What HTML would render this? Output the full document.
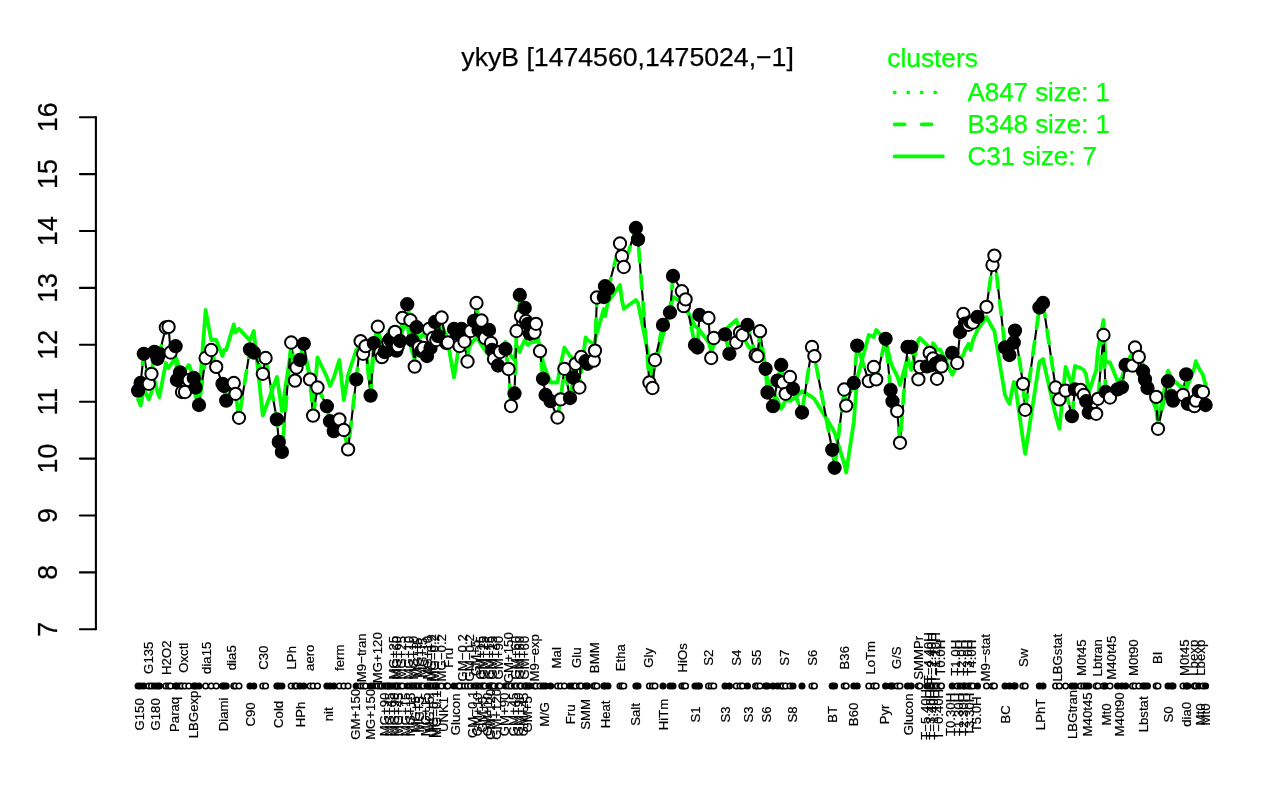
<!DOCTYPE html>
<html lang="en"><head><meta charset="utf-8"><title>ykyB [1474560,1475024,-1]</title>
<style>html,body{margin:0;padding:0;background:#fff}svg{display:block}text{font-family:"Liberation Sans",Arial,Helvetica,sans-serif;fill:#000;stroke:#000;stroke-width:.25px}.g{fill:#0f0;stroke:#0f0}.xl{font-size:13.2px;stroke-width:.2px}.yl{font-size:26.8px}</style></head><body>
<svg width="1280" height="800" viewBox="0 0 1280 800">
<rect width="1280" height="800" fill="#fff"/>
<text x="627.6" y="66" font-size="26.2" text-anchor="middle" textLength="332.5" lengthAdjust="spacingAndGlyphs">ykyB [1474560,1475024,−1]</text>
<text class="g" x="887.3" y="66.6" font-size="26.3">clusters</text>
<line x1="894.7" y1="92.4" x2="942.9" y2="92.4" stroke="#0f0" stroke-width="3.8" stroke-linecap="round" stroke-dasharray="0 13.5"/>
<text class="g" x="967.5" y="100.8" font-size="25.9">A847 size: 1</text>
<line x1="894.7" y1="124.4" x2="942.9" y2="124.4" stroke="#0f0" stroke-width="3.8" stroke-linecap="round" stroke-dasharray="9.8 17.2"/>
<text class="g" x="967.5" y="132.8" font-size="25.9">B348 size: 1</text>
<line x1="894.7" y1="156.4" x2="942.9" y2="156.4" stroke="#0f0" stroke-width="3.8" stroke-linecap="round"/>
<text class="g" x="967.5" y="164.8" font-size="25.9">C31 size: 7</text>
<g stroke="#000" stroke-width="2.1" fill="none" stroke-linecap="round">
<line x1="95.9" y1="117.2" x2="95.9" y2="629.3"/>
<line x1="79.9" y1="117.2" x2="95.9" y2="117.2"/>
<line x1="79.9" y1="174.1" x2="95.9" y2="174.1"/>
<line x1="79.9" y1="231" x2="95.9" y2="231"/>
<line x1="79.9" y1="287.9" x2="95.9" y2="287.9"/>
<line x1="79.9" y1="344.8" x2="95.9" y2="344.8"/>
<line x1="79.9" y1="401.7" x2="95.9" y2="401.7"/>
<line x1="79.9" y1="458.6" x2="95.9" y2="458.6"/>
<line x1="79.9" y1="515.5" x2="95.9" y2="515.5"/>
<line x1="79.9" y1="572.4" x2="95.9" y2="572.4"/>
<line x1="79.9" y1="629.3" x2="95.9" y2="629.3"/>
</g>
<text class="yl" text-anchor="middle" transform="translate(57.0,117.2) rotate(-90)">16</text>
<text class="yl" text-anchor="middle" transform="translate(57.0,174.1) rotate(-90)">15</text>
<text class="yl" text-anchor="middle" transform="translate(57.0,231) rotate(-90)">14</text>
<text class="yl" text-anchor="middle" transform="translate(57.0,287.9) rotate(-90)">13</text>
<text class="yl" text-anchor="middle" transform="translate(57.0,344.8) rotate(-90)">12</text>
<text class="yl" text-anchor="middle" transform="translate(57.0,401.7) rotate(-90)">11</text>
<text class="yl" text-anchor="middle" transform="translate(57.0,458.6) rotate(-90)">10</text>
<text class="yl" text-anchor="middle" transform="translate(57.0,515.5) rotate(-90)">9</text>
<text class="yl" text-anchor="middle" transform="translate(57.0,572.4) rotate(-90)">8</text>
<text class="yl" text-anchor="middle" transform="translate(57.0,629.3) rotate(-90)">7</text>
<polyline fill="none" stroke="#0f0" stroke-width="3.8" stroke-linejoin="round" stroke-linecap="round" points="138.1,399.4 140.6,405.6 143.8,388.8 148.8,399.4 151.5,392 154.4,380 157.5,392 159.4,397 165.8,363 168.6,368 170.6,365 175.6,357.5 176.9,360 180,370 182,375 185,370 188.8,365 193.8,377 195.6,397 199,398 205.6,310 211.2,340 216.2,340 222.5,356 224,350 226.2,350 233.8,324.4 235.6,332.5 239,328.8 250,340.6 253.8,331 262.8,415.6 265.6,408 276.9,377 278.8,389 281.9,411 291.2,348.8 295,362 296.5,365 300,368 303.8,354 310,375 313.1,407.5 317.5,357.5 326.9,377 330,386 333.8,377.5 339.4,360 343.8,400 348.1,375 356.2,350 360.6,345 363.1,345 365.6,348 370.6,387.5 373.8,345 377.8,332 380.4,338 381.9,342 384.5,345 387,340 388.3,332 390,330 392.3,338 395,350 396.4,355 397.8,352 400,345 402.5,330 407.2,322 410.4,345 412.3,352 414.7,358 416.5,345 419,340 421.3,336 423.5,334 427,338 429,340 430.5,338 433,335 435,332 436.3,330 438,328 441.6,326 446.3,335 447.9,343 454,377.5 458,352 461.5,348 459.5,350 464.5,350 467.5,350 470.5,345 474,340 476.5,338 478.5,340 481.5,345 483.5,348 485,350 489,355 491,358 492,360 494,362 498,365 500,355 505.5,342 508.5,350 511,356 514.5,360 516.5,345 519.8,352 521,348 524.8,340 526,343 527.9,345 529.8,343 534.5,342 536,339 540,345 543,362 545.6,370 550.6,382.5 557.5,382.5 560.6,365 564.4,347.5 570,356 573,358 575.6,362 579.4,368 581.2,372 585.6,337.5 587.5,340 593.8,344 595,340 596.9,333 603.8,309 605,316 608,302 620,285 621.9,300 623.8,308.8 635.9,300 638,303 649.4,360 652.5,376 655,365 663,335 670,310 673,297 681.9,302 683.8,305 685.6,308 695,326 697.5,328 699.4,330 708.5,342 711.2,350 713.8,345 725,330 729.4,326 736.2,320 740,330 742.5,335 747.5,345 755.6,355 757.5,352 760,342 765.6,372 767.5,380 773,392 777.5,400 781.2,408.8 783,406 785.6,400 790,401 793,399 802,391.2 812,397 814.4,399 832.2,428 834.6,432.5 844.2,463.6 846.2,472.5 853.8,422 857.2,378 868.8,335 873.8,337 876.2,330 885.6,340 890.6,362 892.5,367 897.2,376 900,385 907.5,358 911.2,370 918.4,340 920,338 926.9,345 929.7,350 931.5,348 933,343.3 935.3,346 937,350 939.8,349.5 941.5,352 952.2,374.8 957.2,365 960,358 963.4,355 965,350 968.5,344 970.5,350 973,340 977.5,330 986.5,317 992.5,328 994.4,331 1005,395 1009.4,403.8 1013.8,382 1015,383 1023,440 1025.2,453.8 1039.4,362 1043,359 1055.6,415 1059.4,428.8 1065.6,367 1071.9,385 1075,366 1080.6,368 1083.8,370 1086.2,375 1088.8,392.5 1096.2,370 1098,350 1103.5,320 1105.6,362 1110,362.5 1117.5,381 1121.9,378 1125.6,365 1132.5,352.5 1135,350 1138.8,355 1143,365 1145,372 1147.5,385 1156.2,410 1158,422.5 1168,370.6 1171.5,378 1173,380 1183,388.8 1186.2,381 1187.8,385 1194.4,368 1195.8,361.2 1198.8,368 1203,375 1205.6,385"/>
<polyline fill="none" stroke="#000" stroke-width="2.1" stroke-linejoin="round" points="138.1,390.6 140.6,383 143.8,353.8 148.8,383.8 151.5,373.8 154.4,351.9 157.5,358.8 159.4,353.8 165.8,327.5 168.6,326.9 170.6,352.5 175.6,346.2 176.9,380 180,372.5 182,392 185,392 188.8,380 193.8,378 195.6,387.5 199,405 205.6,358 211.2,350 216.2,366.9 222.5,383.8 224,386 226.2,400.6 233.8,383 235.6,393.8 239,417.8 250,349.4 253.8,352.5 262.8,373.8 265.6,358 276.9,419.4 278.8,441.9 281.9,451.9 291.2,342.5 295,380.6 296.5,367.5 300,360 303.8,343.8 310,379.4 313.1,415.6 317.5,387.5 326.9,406.2 330,421.2 333.8,431.2 339.4,419.4 343.8,430 348.1,449.4 356.2,379.4 360.6,341.2 363.1,353.8 365.6,346.2 370.6,395.6 373.8,343.1 377.8,326.7 380.4,352.5 381.9,357.2 384.5,352 387,350.6 388.3,342 390,339.4 392.3,347 395,331.9 396.4,350.6 397.8,346 400,341 402.5,317.8 407.2,304.2 410.4,320.2 412.3,340.3 414.7,366.6 416.5,327.2 419,347 421.3,351 423.5,348 427,356 429,329 430.5,348 433,338 435,322 436.3,340 438,336 441.6,317.5 446.3,343 447.9,342.5 454,329 458,334 461.5,329 459.5,346 464.5,341.5 467.5,361.5 470.5,331 474,321 476.5,303 478.5,330 481.5,320.5 483.5,334 485,338 489,330 491,343 492,350 494,359 498,365.5 500,352 505.5,349 508.5,369 511,406 514.5,393.5 516.5,331 519.8,295 521,316 524.8,308 526,321 527.9,323.8 529.8,333.8 534.5,332.5 536,323.8 540,351.2 543,378.8 545.6,395 550.6,401.2 557.5,417.5 560.6,399.4 564.4,368.8 570,398 573,377.5 575.6,363.8 579.4,387.5 581.2,357 585.6,361.2 587.5,363.8 593.8,360.6 595,350.6 596.9,297.5 603.8,297 605,286.2 608,288.8 620,243.5 621.9,256.2 623.8,267 635.9,228 638,239.4 649.4,382.5 652.5,388 655,360 663,325 670,312.5 673,276 681.9,291.2 683.8,306.2 685.6,299.4 695,345 697.5,347.5 699.4,315 708.5,318 711.2,358 713.8,338 725,334.4 729.4,353.8 736.2,342.5 740,332.5 742.5,335 747.5,325 755.6,355 757.5,356.2 760,331.2 765.6,368.8 767.5,392.5 773,406.2 777.5,380.6 781.2,365 783,382.5 785.6,393.8 790,377 793,388.8 802,412.5 812,347 814.4,356.2 832.2,449.8 834.6,467.8 844.2,389.5 846.2,405.6 853.8,383 857.2,345.6 868.8,381.2 873.8,367 876.2,379.4 885.6,338.8 890.6,390 892.5,401.2 897.2,411.2 900,442.8 907.5,347 911.2,347 918.4,379.3 920,367 926.9,366.4 929.7,352.9 931.5,365 933,358.5 935.3,364 937,378.8 939.8,361.3 941.5,366.4 952.2,352.9 957.2,363 960,332 963.4,314 965,323.6 968.5,324.8 970.5,322 973,322.5 977.5,316.9 986.5,306.8 992.5,265 994.4,255.6 1005,347.5 1009.4,355 1013.8,342.5 1015,330.6 1023,383.8 1025.2,409.8 1039.4,307.5 1043,303 1055.6,387.5 1059.4,399.4 1065.6,390.6 1071.9,416.2 1075,389.4 1080.6,390 1083.8,395 1086.2,401.2 1088.8,412.5 1096.2,413.8 1098,398.8 1103.5,335 1105.6,392 1110,397.5 1117.5,389.4 1121.9,387.3 1125.6,365 1132.5,365.6 1135,347.5 1138.8,356.9 1143,371.2 1145,379.4 1147.5,388 1156.2,396.9 1158,428.8 1168,381.2 1171.5,396.2 1173,400.6 1183,395 1186.2,374.4 1187.8,403.8 1194.4,406.2 1195.8,400.6 1198.8,391.2 1203,392 1205.6,405"/>
<polyline fill="none" stroke="#0f0" stroke-width="3.8" stroke-linejoin="round" stroke-linecap="round" stroke-dasharray="13.2 13.8" stroke-dashoffset="0" points="138.1,390.6 140.6,383 143.8,353.8 148.8,383.8 151.5,373.8 154.4,351.9 157.5,358.8 159.4,353.8 165.8,327.5 168.6,326.9 170.6,352.5 175.6,346.2 176.9,380 180,372.5 182,392 185,392 188.8,380 193.8,378 195.6,387.5 199,405 205.6,358 211.2,350 216.2,366.9 222.5,383.8 224,386 226.2,400.6 233.8,383 235.6,393.8 239,417.8 250,349.4 253.8,352.5 262.8,373.8 265.6,358 276.9,419.4 278.8,441.9 281.9,451.9 291.2,342.5 295,380.6 296.5,367.5 300,360 303.8,343.8 310,379.4 313.1,415.6 317.5,387.5 326.9,406.2 330,421.2 333.8,431.2 339.4,419.4 343.8,430 348.1,449.4 356.2,379.4 360.6,341.2 363.1,353.8 365.6,346.2 370.6,395.6 373.8,343.1 377.8,326.7 380.4,352.5 381.9,357.2 384.5,352 387,350.6 388.3,342 390,339.4 392.3,347 395,331.9 396.4,350.6 397.8,346 400,341 402.5,317.8 407.2,304.2 410.4,320.2 412.3,340.3 414.7,366.6 416.5,327.2 419,347 421.3,351 423.5,348 427,356 429,329 430.5,348 433,338 435,322 436.3,340 438,336 441.6,317.5 446.3,343 447.9,342.5 454,329 458,334 461.5,329 459.5,346 464.5,341.5 467.5,361.5 470.5,331 474,321 476.5,303 478.5,330 481.5,320.5 483.5,334 485,338 489,330 491,343 492,350 494,359 498,365.5 500,352 505.5,349 508.5,369 511,406 514.5,393.5 516.5,331 519.8,295 521,316 524.8,308 526,321 527.9,323.8 529.8,333.8 534.5,332.5 536,323.8 540,351.2 543,378.8 545.6,395 550.6,401.2 557.5,417.5 560.6,399.4 564.4,368.8 570,398 573,377.5 575.6,363.8 579.4,387.5 581.2,357 585.6,361.2 587.5,363.8 593.8,360.6 595,350.6 596.9,297.5 603.8,297 605,286.2 608,288.8 620,243.5 621.9,256.2 623.8,267 635.9,228 638,239.4 649.4,382.5 652.5,388 655,360 663,325 670,312.5 673,276 681.9,291.2 683.8,306.2 685.6,299.4 695,345 697.5,347.5 699.4,315 708.5,318 711.2,358 713.8,338 725,334.4 729.4,353.8 736.2,342.5 740,332.5 742.5,335 747.5,325 755.6,355 757.5,356.2 760,331.2 765.6,368.8 767.5,392.5 773,406.2 777.5,380.6 781.2,365 783,382.5 785.6,393.8 790,377 793,388.8 802,412.5 812,347 814.4,356.2 832.2,449.8 834.6,467.8 844.2,389.5 846.2,405.6 853.8,383 857.2,345.6 868.8,381.2 873.8,367 876.2,379.4 885.6,338.8 890.6,390 892.5,401.2 897.2,411.2 900,442.8 907.5,347 911.2,347 918.4,379.3 920,367 926.9,366.4 929.7,352.9 931.5,365 933,358.5 935.3,364 937,378.8 939.8,361.3 941.5,366.4 952.2,352.9 957.2,363 960,332 963.4,314 965,323.6 968.5,324.8 970.5,322 973,322.5 977.5,316.9 986.5,306.8 992.5,265 994.4,255.6 1005,347.5 1009.4,355 1013.8,342.5 1015,330.6 1023,383.8 1025.2,409.8 1039.4,307.5 1043,303 1055.6,387.5 1059.4,399.4 1065.6,390.6 1071.9,416.2 1075,389.4 1080.6,390 1083.8,395 1086.2,401.2 1088.8,412.5 1096.2,413.8 1098,398.8 1103.5,335 1105.6,392 1110,397.5 1117.5,389.4 1121.9,387.3 1125.6,365 1132.5,365.6 1135,347.5 1138.8,356.9 1143,371.2 1145,379.4 1147.5,388 1156.2,396.9 1158,428.8 1168,381.2 1171.5,396.2 1173,400.6 1183,395 1186.2,374.4 1187.8,403.8 1194.4,406.2 1195.8,400.6 1198.8,391.2 1203,392 1205.6,405"/>
<g stroke="#000" stroke-width="2.0">
<g fill="#000"><circle cx="138.1" cy="390.6" r="6.15"/><circle cx="140.6" cy="383" r="6.15"/><circle cx="143.8" cy="353.8" r="6.15"/></g>
<g fill="#fff"><circle cx="148.8" cy="383.8" r="6.15"/><circle cx="151.5" cy="373.8" r="6.15"/></g>
<g fill="#000"><circle cx="154.4" cy="351.9" r="6.15"/><circle cx="157.5" cy="358.8" r="6.15"/><circle cx="159.4" cy="353.8" r="6.15"/></g>
<g fill="#fff"><circle cx="165.8" cy="327.5" r="6.15"/><circle cx="168.6" cy="326.9" r="6.15"/><circle cx="170.6" cy="352.5" r="6.15"/></g>
<g fill="#000"><circle cx="175.6" cy="346.2" r="6.15"/><circle cx="176.9" cy="380" r="6.15"/><circle cx="180" cy="372.5" r="6.15"/></g>
<g fill="#fff"><circle cx="182" cy="392" r="6.15"/><circle cx="185" cy="392" r="6.15"/><circle cx="188.8" cy="380" r="6.15"/></g>
<g fill="#000"><circle cx="193.8" cy="378" r="6.15"/><circle cx="195.6" cy="387.5" r="6.15"/><circle cx="199" cy="405" r="6.15"/></g>
<g fill="#fff"><circle cx="205.6" cy="358" r="6.15"/><circle cx="211.2" cy="350" r="6.15"/><circle cx="216.2" cy="366.9" r="6.15"/></g>
<g fill="#000"><circle cx="222.5" cy="383.8" r="6.15"/><circle cx="224" cy="386" r="6.15"/><circle cx="226.2" cy="400.6" r="6.15"/></g>
<g fill="#fff"><circle cx="233.8" cy="383" r="6.15"/><circle cx="235.6" cy="393.8" r="6.15"/><circle cx="239" cy="417.8" r="6.15"/></g>
<g fill="#000"><circle cx="250" cy="349.4" r="6.15"/><circle cx="253.8" cy="352.5" r="6.15"/></g>
<g fill="#fff"><circle cx="262.8" cy="373.8" r="6.15"/><circle cx="265.6" cy="358" r="6.15"/></g>
<g fill="#000"><circle cx="276.9" cy="419.4" r="6.15"/><circle cx="278.8" cy="441.9" r="6.15"/><circle cx="281.9" cy="451.9" r="6.15"/></g>
<g fill="#fff"><circle cx="291.2" cy="342.5" r="6.15"/><circle cx="295" cy="380.6" r="6.15"/><circle cx="296.5" cy="367.5" r="6.15"/></g>
<g fill="#000"><circle cx="300" cy="360" r="6.15"/><circle cx="303.8" cy="343.8" r="6.15"/></g>
<g fill="#fff"><circle cx="310" cy="379.4" r="6.15"/><circle cx="313.1" cy="415.6" r="6.15"/><circle cx="317.5" cy="387.5" r="6.15"/></g>
<g fill="#000"><circle cx="326.9" cy="406.2" r="6.15"/><circle cx="330" cy="421.2" r="6.15"/><circle cx="333.8" cy="431.2" r="6.15"/></g>
<g fill="#fff"><circle cx="339.4" cy="419.4" r="6.15"/><circle cx="343.8" cy="430" r="6.15"/><circle cx="348.1" cy="449.4" r="6.15"/></g>
<g fill="#000"><circle cx="356.2" cy="379.4" r="6.15"/></g>
<g fill="#fff"><circle cx="360.6" cy="341.2" r="6.15"/><circle cx="363.1" cy="353.8" r="6.15"/><circle cx="365.6" cy="346.2" r="6.15"/></g>
<g fill="#000"><circle cx="370.6" cy="395.6" r="6.15"/><circle cx="373.8" cy="343.1" r="6.15"/></g>
<g fill="#fff"><circle cx="377.8" cy="326.7" r="6.15"/><circle cx="380.4" cy="352.5" r="6.15"/><circle cx="381.9" cy="357.2" r="6.15"/></g>
<g fill="#000"><circle cx="384.5" cy="352" r="6.15"/><circle cx="387" cy="350.6" r="6.15"/></g>
<g fill="#fff"><circle cx="388.3" cy="342" r="6.15"/></g>
<g fill="#000"><circle cx="390" cy="339.4" r="6.15"/><circle cx="392.3" cy="347" r="6.15"/></g>
<g fill="#fff"><circle cx="395" cy="331.9" r="6.15"/></g>
<g fill="#000"><circle cx="396.4" cy="350.6" r="6.15"/></g>
<g fill="#fff"><circle cx="397.8" cy="346" r="6.15"/></g>
<g fill="#000"><circle cx="400" cy="341" r="6.15"/></g>
<g fill="#fff"><circle cx="402.5" cy="317.8" r="6.15"/></g>
<g fill="#000"><circle cx="407.2" cy="304.2" r="6.15"/></g>
<g fill="#fff"><circle cx="410.4" cy="320.2" r="6.15"/></g>
<g fill="#000"><circle cx="412.3" cy="340.3" r="6.15"/></g>
<g fill="#fff"><circle cx="414.7" cy="366.6" r="6.15"/></g>
<g fill="#000"><circle cx="416.5" cy="327.2" r="6.15"/></g>
<g fill="#fff"><circle cx="419" cy="347" r="6.15"/></g>
<g fill="#000"><circle cx="421.3" cy="351" r="6.15"/></g>
<g fill="#fff"><circle cx="423.5" cy="348" r="6.15"/></g>
<g fill="#000"><circle cx="427" cy="356" r="6.15"/></g>
<g fill="#fff"><circle cx="429" cy="329" r="6.15"/></g>
<g fill="#000"><circle cx="430.5" cy="348" r="6.15"/></g>
<g fill="#fff"><circle cx="433" cy="338" r="6.15"/></g>
<g fill="#000"><circle cx="435" cy="322" r="6.15"/></g>
<g fill="#fff"><circle cx="436.3" cy="340" r="6.15"/></g>
<g fill="#000"><circle cx="438" cy="336" r="6.15"/></g>
<g fill="#fff"><circle cx="441.6" cy="317.5" r="6.15"/></g>
<g fill="#000"><circle cx="446.3" cy="343" r="6.15"/></g>
<g fill="#fff"><circle cx="447.9" cy="342.5" r="6.15"/></g>
<g fill="#000"><circle cx="454" cy="329" r="6.15"/><circle cx="458" cy="334" r="6.15"/><circle cx="461.5" cy="329" r="6.15"/></g>
<g fill="#fff"><circle cx="459.5" cy="346" r="6.15"/><circle cx="464.5" cy="341.5" r="6.15"/><circle cx="467.5" cy="361.5" r="6.15"/></g>
<g fill="#fff"><circle cx="470.5" cy="331" r="6.15"/></g>
<g fill="#000"><circle cx="474" cy="321" r="6.15"/></g>
<g fill="#fff"><circle cx="476.5" cy="303" r="6.15"/></g>
<g fill="#000"><circle cx="478.5" cy="330" r="6.15"/></g>
<g fill="#fff"><circle cx="481.5" cy="320.5" r="6.15"/></g>
<g fill="#000"><circle cx="483.5" cy="334" r="6.15"/></g>
<g fill="#fff"><circle cx="485" cy="338" r="6.15"/></g>
<g fill="#000"><circle cx="489" cy="330" r="6.15"/></g>
<g fill="#fff"><circle cx="491" cy="343" r="6.15"/></g>
<g fill="#000"><circle cx="492" cy="350" r="6.15"/></g>
<g fill="#fff"><circle cx="494" cy="359" r="6.15"/></g>
<g fill="#000"><circle cx="498" cy="365.5" r="6.15"/></g>
<g fill="#fff"><circle cx="500" cy="352" r="6.15"/></g>
<g fill="#000"><circle cx="505.5" cy="349" r="6.15"/></g>
<g fill="#fff"><circle cx="508.5" cy="369" r="6.15"/><circle cx="511" cy="406" r="6.15"/></g>
<g fill="#000"><circle cx="514.5" cy="393.5" r="6.15"/></g>
<g fill="#fff"><circle cx="516.5" cy="331" r="6.15"/></g>
<g fill="#000"><circle cx="519.8" cy="295" r="6.15"/></g>
<g fill="#fff"><circle cx="521" cy="316" r="6.15"/></g>
<g fill="#000"><circle cx="524.8" cy="308" r="6.15"/></g>
<g fill="#fff"><circle cx="526" cy="321" r="6.15"/></g>
<g fill="#000"><circle cx="527.9" cy="323.8" r="6.15"/><circle cx="529.8" cy="333.8" r="6.15"/></g>
<g fill="#fff"><circle cx="534.5" cy="332.5" r="6.15"/><circle cx="536" cy="323.8" r="6.15"/><circle cx="540" cy="351.2" r="6.15"/></g>
<g fill="#000"><circle cx="543" cy="378.8" r="6.15"/><circle cx="545.6" cy="395" r="6.15"/><circle cx="550.6" cy="401.2" r="6.15"/></g>
<g fill="#fff"><circle cx="557.5" cy="417.5" r="6.15"/><circle cx="560.6" cy="399.4" r="6.15"/><circle cx="564.4" cy="368.8" r="6.15"/></g>
<g fill="#000"><circle cx="570" cy="398" r="6.15"/><circle cx="573" cy="377.5" r="6.15"/></g>
<g fill="#fff"><circle cx="575.6" cy="363.8" r="6.15"/><circle cx="579.4" cy="387.5" r="6.15"/><circle cx="581.2" cy="357" r="6.15"/></g>
<g fill="#000"><circle cx="585.6" cy="361.2" r="6.15"/><circle cx="587.5" cy="363.8" r="6.15"/></g>
<g fill="#fff"><circle cx="593.8" cy="360.6" r="6.15"/><circle cx="595" cy="350.6" r="6.15"/><circle cx="596.9" cy="297.5" r="6.15"/></g>
<g fill="#000"><circle cx="603.8" cy="297" r="6.15"/><circle cx="605" cy="286.2" r="6.15"/><circle cx="608" cy="288.8" r="6.15"/></g>
<g fill="#fff"><circle cx="620" cy="243.5" r="6.15"/><circle cx="621.9" cy="256.2" r="6.15"/><circle cx="623.8" cy="267" r="6.15"/></g>
<g fill="#000"><circle cx="635.9" cy="228" r="6.15"/><circle cx="638" cy="239.4" r="6.15"/></g>
<g fill="#fff"><circle cx="649.4" cy="382.5" r="6.15"/><circle cx="652.5" cy="388" r="6.15"/><circle cx="655" cy="360" r="6.15"/></g>
<g fill="#000"><circle cx="663" cy="325" r="6.15"/><circle cx="670" cy="312.5" r="6.15"/><circle cx="673" cy="276" r="6.15"/></g>
<g fill="#fff"><circle cx="681.9" cy="291.2" r="6.15"/><circle cx="683.8" cy="306.2" r="6.15"/><circle cx="685.6" cy="299.4" r="6.15"/></g>
<g fill="#000"><circle cx="695" cy="345" r="6.15"/><circle cx="697.5" cy="347.5" r="6.15"/><circle cx="699.4" cy="315" r="6.15"/></g>
<g fill="#fff"><circle cx="708.5" cy="318" r="6.15"/><circle cx="711.2" cy="358" r="6.15"/><circle cx="713.8" cy="338" r="6.15"/></g>
<g fill="#000"><circle cx="725" cy="334.4" r="6.15"/><circle cx="729.4" cy="353.8" r="6.15"/></g>
<g fill="#fff"><circle cx="736.2" cy="342.5" r="6.15"/><circle cx="740" cy="332.5" r="6.15"/><circle cx="742.5" cy="335" r="6.15"/></g>
<g fill="#000"><circle cx="747.5" cy="325" r="6.15"/></g>
<g fill="#fff"><circle cx="755.6" cy="355" r="6.15"/><circle cx="757.5" cy="356.2" r="6.15"/><circle cx="760" cy="331.2" r="6.15"/></g>
<g fill="#000"><circle cx="765.6" cy="368.8" r="6.15"/><circle cx="767.5" cy="392.5" r="6.15"/><circle cx="773" cy="406.2" r="6.15"/><circle cx="777.5" cy="380.6" r="6.15"/><circle cx="781.2" cy="365" r="6.15"/></g>
<g fill="#fff"><circle cx="783" cy="382.5" r="6.15"/><circle cx="785.6" cy="393.8" r="6.15"/><circle cx="790" cy="377" r="6.15"/></g>
<g fill="#000"><circle cx="793" cy="388.8" r="6.15"/><circle cx="802" cy="412.5" r="6.15"/></g>
<g fill="#fff"><circle cx="812" cy="347" r="6.15"/><circle cx="814.4" cy="356.2" r="6.15"/></g>
<g fill="#000"><circle cx="832.2" cy="449.8" r="6.15"/><circle cx="834.6" cy="467.8" r="6.15"/></g>
<g fill="#fff"><circle cx="844.2" cy="389.5" r="6.15"/><circle cx="846.2" cy="405.6" r="6.15"/></g>
<g fill="#000"><circle cx="853.8" cy="383" r="6.15"/><circle cx="857.2" cy="345.6" r="6.15"/></g>
<g fill="#fff"><circle cx="868.8" cy="381.2" r="6.15"/><circle cx="873.8" cy="367" r="6.15"/><circle cx="876.2" cy="379.4" r="6.15"/></g>
<g fill="#000"><circle cx="885.6" cy="338.8" r="6.15"/><circle cx="890.6" cy="390" r="6.15"/><circle cx="892.5" cy="401.2" r="6.15"/></g>
<g fill="#fff"><circle cx="897.2" cy="411.2" r="6.15"/><circle cx="900" cy="442.8" r="6.15"/></g>
<g fill="#000"><circle cx="907.5" cy="347" r="6.15"/><circle cx="911.2" cy="347" r="6.15"/></g>
<g fill="#fff"><circle cx="918.4" cy="379.3" r="6.15"/><circle cx="920" cy="367" r="6.15"/></g>
<g fill="#000"><circle cx="926.9" cy="366.4" r="6.15"/></g>
<g fill="#fff"><circle cx="929.7" cy="352.9" r="6.15"/></g>
<g fill="#000"><circle cx="931.5" cy="365" r="6.15"/></g>
<g fill="#fff"><circle cx="933" cy="358.5" r="6.15"/></g>
<g fill="#000"><circle cx="935.3" cy="364" r="6.15"/></g>
<g fill="#fff"><circle cx="937" cy="378.8" r="6.15"/></g>
<g fill="#000"><circle cx="939.8" cy="361.3" r="6.15"/></g>
<g fill="#fff"><circle cx="941.5" cy="366.4" r="6.15"/></g>
<g fill="#000"><circle cx="952.2" cy="352.9" r="6.15"/></g>
<g fill="#fff"><circle cx="957.2" cy="363" r="6.15"/></g>
<g fill="#000"><circle cx="960" cy="332" r="6.15"/></g>
<g fill="#fff"><circle cx="963.4" cy="314" r="6.15"/></g>
<g fill="#000"><circle cx="965" cy="323.6" r="6.15"/></g>
<g fill="#fff"><circle cx="968.5" cy="324.8" r="6.15"/></g>
<g fill="#000"><circle cx="970.5" cy="322" r="6.15"/></g>
<g fill="#fff"><circle cx="973" cy="322.5" r="6.15"/></g>
<g fill="#000"><circle cx="977.5" cy="316.9" r="6.15"/></g>
<g fill="#fff"><circle cx="986.5" cy="306.8" r="6.15"/><circle cx="992.5" cy="265" r="6.15"/><circle cx="994.4" cy="255.6" r="6.15"/></g>
<g fill="#000"><circle cx="1005" cy="347.5" r="6.15"/><circle cx="1009.4" cy="355" r="6.15"/><circle cx="1013.8" cy="342.5" r="6.15"/><circle cx="1015" cy="330.6" r="6.15"/></g>
<g fill="#fff"><circle cx="1023" cy="383.8" r="6.15"/><circle cx="1025.2" cy="409.8" r="6.15"/></g>
<g fill="#000"><circle cx="1039.4" cy="307.5" r="6.15"/><circle cx="1043" cy="303" r="6.15"/></g>
<g fill="#fff"><circle cx="1055.6" cy="387.5" r="6.15"/><circle cx="1059.4" cy="399.4" r="6.15"/><circle cx="1065.6" cy="390.6" r="6.15"/></g>
<g fill="#000"><circle cx="1071.9" cy="416.2" r="6.15"/><circle cx="1075" cy="389.4" r="6.15"/></g>
<g fill="#fff"><circle cx="1080.6" cy="390" r="6.15"/><circle cx="1083.8" cy="395" r="6.15"/></g>
<g fill="#000"><circle cx="1086.2" cy="401.2" r="6.15"/><circle cx="1088.8" cy="412.5" r="6.15"/></g>
<g fill="#fff"><circle cx="1096.2" cy="413.8" r="6.15"/><circle cx="1098" cy="398.8" r="6.15"/><circle cx="1103.5" cy="335" r="6.15"/></g>
<g fill="#000"><circle cx="1105.6" cy="392" r="6.15"/></g>
<g fill="#fff"><circle cx="1110" cy="397.5" r="6.15"/></g>
<g fill="#000"><circle cx="1117.5" cy="389.4" r="6.15"/><circle cx="1121.9" cy="387.3" r="6.15"/><circle cx="1125.6" cy="365" r="6.15"/></g>
<g fill="#fff"><circle cx="1132.5" cy="365.6" r="6.15"/><circle cx="1135" cy="347.5" r="6.15"/><circle cx="1138.8" cy="356.9" r="6.15"/></g>
<g fill="#000"><circle cx="1143" cy="371.2" r="6.15"/><circle cx="1145" cy="379.4" r="6.15"/><circle cx="1147.5" cy="388" r="6.15"/></g>
<g fill="#fff"><circle cx="1156.2" cy="396.9" r="6.15"/><circle cx="1158" cy="428.8" r="6.15"/></g>
<g fill="#000"><circle cx="1168" cy="381.2" r="6.15"/><circle cx="1171.5" cy="396.2" r="6.15"/><circle cx="1173" cy="400.6" r="6.15"/></g>
<g fill="#fff"><circle cx="1183" cy="395" r="6.15"/></g>
<g fill="#000"><circle cx="1186.2" cy="374.4" r="6.15"/><circle cx="1187.8" cy="403.8" r="6.15"/></g>
<g fill="#fff"><circle cx="1194.4" cy="406.2" r="6.15"/><circle cx="1195.8" cy="400.6" r="6.15"/></g>
<g fill="#000"><circle cx="1198.8" cy="391.2" r="6.15"/></g>
<g fill="#fff"><circle cx="1203" cy="392" r="6.15"/></g>
<g fill="#000"><circle cx="1205.6" cy="405" r="6.15"/></g>
</g>
<g stroke="#000" stroke-width="1.6">
<g fill="#000"><circle cx="138.1" cy="686" r="2.75"/><circle cx="140.6" cy="686" r="2.75"/><circle cx="143.8" cy="686" r="2.75"/></g>
<g fill="#fff"><circle cx="148.8" cy="686" r="2.75"/><circle cx="151.5" cy="686" r="2.75"/></g>
<g fill="#000"><circle cx="154.4" cy="686" r="2.75"/><circle cx="157.5" cy="686" r="2.75"/><circle cx="159.4" cy="686" r="2.75"/></g>
<g fill="#fff"><circle cx="165.8" cy="686" r="2.75"/><circle cx="168.6" cy="686" r="2.75"/><circle cx="170.6" cy="686" r="2.75"/></g>
<g fill="#000"><circle cx="175.6" cy="686" r="2.75"/><circle cx="176.9" cy="686" r="2.75"/><circle cx="180" cy="686" r="2.75"/></g>
<g fill="#fff"><circle cx="182" cy="686" r="2.75"/><circle cx="185" cy="686" r="2.75"/><circle cx="188.8" cy="686" r="2.75"/></g>
<g fill="#000"><circle cx="193.8" cy="686" r="2.75"/><circle cx="195.6" cy="686" r="2.75"/><circle cx="199" cy="686" r="2.75"/></g>
<g fill="#fff"><circle cx="205.6" cy="686" r="2.75"/><circle cx="211.2" cy="686" r="2.75"/><circle cx="216.2" cy="686" r="2.75"/></g>
<g fill="#000"><circle cx="222.5" cy="686" r="2.75"/><circle cx="224" cy="686" r="2.75"/><circle cx="226.2" cy="686" r="2.75"/></g>
<g fill="#fff"><circle cx="233.8" cy="686" r="2.75"/><circle cx="235.6" cy="686" r="2.75"/><circle cx="239" cy="686" r="2.75"/></g>
<g fill="#000"><circle cx="250" cy="686" r="2.75"/><circle cx="253.8" cy="686" r="2.75"/></g>
<g fill="#fff"><circle cx="262.8" cy="686" r="2.75"/><circle cx="265.6" cy="686" r="2.75"/></g>
<g fill="#000"><circle cx="276.9" cy="686" r="2.75"/><circle cx="278.8" cy="686" r="2.75"/><circle cx="281.9" cy="686" r="2.75"/></g>
<g fill="#fff"><circle cx="291.2" cy="686" r="2.75"/><circle cx="295" cy="686" r="2.75"/><circle cx="296.5" cy="686" r="2.75"/></g>
<g fill="#000"><circle cx="300" cy="686" r="2.75"/><circle cx="303.8" cy="686" r="2.75"/></g>
<g fill="#fff"><circle cx="310" cy="686" r="2.75"/><circle cx="313.1" cy="686" r="2.75"/><circle cx="317.5" cy="686" r="2.75"/></g>
<g fill="#000"><circle cx="326.9" cy="686" r="2.75"/><circle cx="330" cy="686" r="2.75"/><circle cx="333.8" cy="686" r="2.75"/></g>
<g fill="#fff"><circle cx="339.4" cy="686" r="2.75"/><circle cx="343.8" cy="686" r="2.75"/><circle cx="348.1" cy="686" r="2.75"/></g>
<g fill="#000"><circle cx="356.2" cy="686" r="2.75"/></g>
<g fill="#fff"><circle cx="360.6" cy="686" r="2.75"/><circle cx="363.1" cy="686" r="2.75"/><circle cx="365.6" cy="686" r="2.75"/></g>
<g fill="#000"><circle cx="370.6" cy="686" r="2.75"/><circle cx="373.8" cy="686" r="2.75"/></g>
<g fill="#fff"><circle cx="377.8" cy="686" r="2.75"/><circle cx="380.4" cy="686" r="2.75"/><circle cx="381.9" cy="686" r="2.75"/></g>
<g fill="#000"><circle cx="384.5" cy="686" r="2.75"/><circle cx="387" cy="686" r="2.75"/></g>
<g fill="#fff"><circle cx="388.3" cy="686" r="2.75"/></g>
<g fill="#000"><circle cx="390" cy="686" r="2.75"/><circle cx="392.3" cy="686" r="2.75"/></g>
<g fill="#fff"><circle cx="395" cy="686" r="2.75"/></g>
<g fill="#000"><circle cx="396.4" cy="686" r="2.75"/></g>
<g fill="#fff"><circle cx="397.8" cy="686" r="2.75"/></g>
<g fill="#000"><circle cx="400" cy="686" r="2.75"/></g>
<g fill="#fff"><circle cx="402.5" cy="686" r="2.75"/></g>
<g fill="#000"><circle cx="407.2" cy="686" r="2.75"/></g>
<g fill="#fff"><circle cx="410.4" cy="686" r="2.75"/></g>
<g fill="#000"><circle cx="412.3" cy="686" r="2.75"/></g>
<g fill="#fff"><circle cx="414.7" cy="686" r="2.75"/></g>
<g fill="#000"><circle cx="416.5" cy="686" r="2.75"/></g>
<g fill="#fff"><circle cx="419" cy="686" r="2.75"/></g>
<g fill="#000"><circle cx="421.3" cy="686" r="2.75"/></g>
<g fill="#fff"><circle cx="423.5" cy="686" r="2.75"/></g>
<g fill="#000"><circle cx="427" cy="686" r="2.75"/></g>
<g fill="#fff"><circle cx="429" cy="686" r="2.75"/></g>
<g fill="#000"><circle cx="430.5" cy="686" r="2.75"/></g>
<g fill="#fff"><circle cx="433" cy="686" r="2.75"/></g>
<g fill="#000"><circle cx="435" cy="686" r="2.75"/></g>
<g fill="#fff"><circle cx="436.3" cy="686" r="2.75"/></g>
<g fill="#000"><circle cx="438" cy="686" r="2.75"/></g>
<g fill="#fff"><circle cx="441.6" cy="686" r="2.75"/></g>
<g fill="#000"><circle cx="446.3" cy="686" r="2.75"/></g>
<g fill="#fff"><circle cx="447.9" cy="686" r="2.75"/></g>
<g fill="#000"><circle cx="454" cy="686" r="2.75"/><circle cx="458" cy="686" r="2.75"/><circle cx="461.5" cy="686" r="2.75"/></g>
<g fill="#fff"><circle cx="459.5" cy="686" r="2.75"/><circle cx="464.5" cy="686" r="2.75"/><circle cx="467.5" cy="686" r="2.75"/></g>
<g fill="#fff"><circle cx="470.5" cy="686" r="2.75"/></g>
<g fill="#000"><circle cx="474" cy="686" r="2.75"/></g>
<g fill="#fff"><circle cx="476.5" cy="686" r="2.75"/></g>
<g fill="#000"><circle cx="478.5" cy="686" r="2.75"/></g>
<g fill="#fff"><circle cx="481.5" cy="686" r="2.75"/></g>
<g fill="#000"><circle cx="483.5" cy="686" r="2.75"/></g>
<g fill="#fff"><circle cx="485" cy="686" r="2.75"/></g>
<g fill="#000"><circle cx="489" cy="686" r="2.75"/></g>
<g fill="#fff"><circle cx="491" cy="686" r="2.75"/></g>
<g fill="#000"><circle cx="492" cy="686" r="2.75"/></g>
<g fill="#fff"><circle cx="494" cy="686" r="2.75"/></g>
<g fill="#000"><circle cx="498" cy="686" r="2.75"/></g>
<g fill="#fff"><circle cx="500" cy="686" r="2.75"/></g>
<g fill="#000"><circle cx="505.5" cy="686" r="2.75"/></g>
<g fill="#fff"><circle cx="508.5" cy="686" r="2.75"/><circle cx="511" cy="686" r="2.75"/></g>
<g fill="#000"><circle cx="514.5" cy="686" r="2.75"/></g>
<g fill="#fff"><circle cx="516.5" cy="686" r="2.75"/></g>
<g fill="#000"><circle cx="519.8" cy="686" r="2.75"/></g>
<g fill="#fff"><circle cx="521" cy="686" r="2.75"/></g>
<g fill="#000"><circle cx="524.8" cy="686" r="2.75"/></g>
<g fill="#fff"><circle cx="526" cy="686" r="2.75"/></g>
<g fill="#000"><circle cx="527.9" cy="686" r="2.75"/><circle cx="529.8" cy="686" r="2.75"/></g>
<g fill="#fff"><circle cx="534.5" cy="686" r="2.75"/><circle cx="536" cy="686" r="2.75"/><circle cx="540" cy="686" r="2.75"/></g>
<g fill="#000"><circle cx="543" cy="686" r="2.75"/><circle cx="545.6" cy="686" r="2.75"/><circle cx="550.6" cy="686" r="2.75"/></g>
<g fill="#fff"><circle cx="557.5" cy="686" r="2.75"/><circle cx="560.6" cy="686" r="2.75"/><circle cx="564.4" cy="686" r="2.75"/></g>
<g fill="#000"><circle cx="570" cy="686" r="2.75"/><circle cx="573" cy="686" r="2.75"/></g>
<g fill="#fff"><circle cx="575.6" cy="686" r="2.75"/><circle cx="579.4" cy="686" r="2.75"/><circle cx="581.2" cy="686" r="2.75"/></g>
<g fill="#000"><circle cx="585.6" cy="686" r="2.75"/><circle cx="587.5" cy="686" r="2.75"/></g>
<g fill="#fff"><circle cx="593.8" cy="686" r="2.75"/><circle cx="595" cy="686" r="2.75"/><circle cx="596.9" cy="686" r="2.75"/></g>
<g fill="#000"><circle cx="603.8" cy="686" r="2.75"/><circle cx="605" cy="686" r="2.75"/><circle cx="608" cy="686" r="2.75"/></g>
<g fill="#fff"><circle cx="620" cy="686" r="2.75"/><circle cx="621.9" cy="686" r="2.75"/><circle cx="623.8" cy="686" r="2.75"/></g>
<g fill="#000"><circle cx="635.9" cy="686" r="2.75"/><circle cx="638" cy="686" r="2.75"/></g>
<g fill="#fff"><circle cx="649.4" cy="686" r="2.75"/><circle cx="652.5" cy="686" r="2.75"/><circle cx="655" cy="686" r="2.75"/></g>
<g fill="#000"><circle cx="663" cy="686" r="2.75"/><circle cx="670" cy="686" r="2.75"/><circle cx="673" cy="686" r="2.75"/></g>
<g fill="#fff"><circle cx="681.9" cy="686" r="2.75"/><circle cx="683.8" cy="686" r="2.75"/><circle cx="685.6" cy="686" r="2.75"/></g>
<g fill="#000"><circle cx="695" cy="686" r="2.75"/><circle cx="697.5" cy="686" r="2.75"/><circle cx="699.4" cy="686" r="2.75"/></g>
<g fill="#fff"><circle cx="708.5" cy="686" r="2.75"/><circle cx="711.2" cy="686" r="2.75"/><circle cx="713.8" cy="686" r="2.75"/></g>
<g fill="#000"><circle cx="725" cy="686" r="2.75"/><circle cx="729.4" cy="686" r="2.75"/></g>
<g fill="#fff"><circle cx="736.2" cy="686" r="2.75"/><circle cx="740" cy="686" r="2.75"/><circle cx="742.5" cy="686" r="2.75"/></g>
<g fill="#000"><circle cx="747.5" cy="686" r="2.75"/></g>
<g fill="#fff"><circle cx="755.6" cy="686" r="2.75"/><circle cx="757.5" cy="686" r="2.75"/><circle cx="760" cy="686" r="2.75"/></g>
<g fill="#000"><circle cx="765.6" cy="686" r="2.75"/><circle cx="767.5" cy="686" r="2.75"/><circle cx="773" cy="686" r="2.75"/><circle cx="777.5" cy="686" r="2.75"/><circle cx="781.2" cy="686" r="2.75"/></g>
<g fill="#fff"><circle cx="783" cy="686" r="2.75"/><circle cx="785.6" cy="686" r="2.75"/><circle cx="790" cy="686" r="2.75"/></g>
<g fill="#000"><circle cx="793" cy="686" r="2.75"/><circle cx="802" cy="686" r="2.75"/></g>
<g fill="#fff"><circle cx="812" cy="686" r="2.75"/><circle cx="814.4" cy="686" r="2.75"/></g>
<g fill="#000"><circle cx="832.2" cy="686" r="2.75"/><circle cx="834.6" cy="686" r="2.75"/></g>
<g fill="#fff"><circle cx="844.2" cy="686" r="2.75"/><circle cx="846.2" cy="686" r="2.75"/></g>
<g fill="#000"><circle cx="853.8" cy="686" r="2.75"/><circle cx="857.2" cy="686" r="2.75"/></g>
<g fill="#fff"><circle cx="868.8" cy="686" r="2.75"/><circle cx="873.8" cy="686" r="2.75"/><circle cx="876.2" cy="686" r="2.75"/></g>
<g fill="#000"><circle cx="885.6" cy="686" r="2.75"/><circle cx="890.6" cy="686" r="2.75"/><circle cx="892.5" cy="686" r="2.75"/></g>
<g fill="#fff"><circle cx="897.2" cy="686" r="2.75"/><circle cx="900" cy="686" r="2.75"/></g>
<g fill="#000"><circle cx="907.5" cy="686" r="2.75"/><circle cx="911.2" cy="686" r="2.75"/></g>
<g fill="#fff"><circle cx="918.4" cy="686" r="2.75"/><circle cx="920" cy="686" r="2.75"/></g>
<g fill="#000"><circle cx="926.9" cy="686" r="2.75"/></g>
<g fill="#fff"><circle cx="929.7" cy="686" r="2.75"/></g>
<g fill="#000"><circle cx="931.5" cy="686" r="2.75"/></g>
<g fill="#fff"><circle cx="933" cy="686" r="2.75"/></g>
<g fill="#000"><circle cx="935.3" cy="686" r="2.75"/></g>
<g fill="#fff"><circle cx="937" cy="686" r="2.75"/></g>
<g fill="#000"><circle cx="939.8" cy="686" r="2.75"/></g>
<g fill="#fff"><circle cx="941.5" cy="686" r="2.75"/></g>
<g fill="#000"><circle cx="952.2" cy="686" r="2.75"/></g>
<g fill="#fff"><circle cx="957.2" cy="686" r="2.75"/></g>
<g fill="#000"><circle cx="960" cy="686" r="2.75"/></g>
<g fill="#fff"><circle cx="963.4" cy="686" r="2.75"/></g>
<g fill="#000"><circle cx="965" cy="686" r="2.75"/></g>
<g fill="#fff"><circle cx="968.5" cy="686" r="2.75"/></g>
<g fill="#000"><circle cx="970.5" cy="686" r="2.75"/></g>
<g fill="#fff"><circle cx="973" cy="686" r="2.75"/></g>
<g fill="#000"><circle cx="977.5" cy="686" r="2.75"/></g>
<g fill="#fff"><circle cx="986.5" cy="686" r="2.75"/><circle cx="992.5" cy="686" r="2.75"/><circle cx="994.4" cy="686" r="2.75"/></g>
<g fill="#000"><circle cx="1005" cy="686" r="2.75"/><circle cx="1009.4" cy="686" r="2.75"/><circle cx="1013.8" cy="686" r="2.75"/><circle cx="1015" cy="686" r="2.75"/></g>
<g fill="#fff"><circle cx="1023" cy="686" r="2.75"/><circle cx="1025.2" cy="686" r="2.75"/></g>
<g fill="#000"><circle cx="1039.4" cy="686" r="2.75"/><circle cx="1043" cy="686" r="2.75"/></g>
<g fill="#fff"><circle cx="1055.6" cy="686" r="2.75"/><circle cx="1059.4" cy="686" r="2.75"/><circle cx="1065.6" cy="686" r="2.75"/></g>
<g fill="#000"><circle cx="1071.9" cy="686" r="2.75"/><circle cx="1075" cy="686" r="2.75"/></g>
<g fill="#fff"><circle cx="1080.6" cy="686" r="2.75"/><circle cx="1083.8" cy="686" r="2.75"/></g>
<g fill="#000"><circle cx="1086.2" cy="686" r="2.75"/><circle cx="1088.8" cy="686" r="2.75"/></g>
<g fill="#fff"><circle cx="1096.2" cy="686" r="2.75"/><circle cx="1098" cy="686" r="2.75"/><circle cx="1103.5" cy="686" r="2.75"/></g>
<g fill="#000"><circle cx="1105.6" cy="686" r="2.75"/></g>
<g fill="#fff"><circle cx="1110" cy="686" r="2.75"/></g>
<g fill="#000"><circle cx="1117.5" cy="686" r="2.75"/><circle cx="1121.9" cy="686" r="2.75"/><circle cx="1125.6" cy="686" r="2.75"/></g>
<g fill="#fff"><circle cx="1132.5" cy="686" r="2.75"/><circle cx="1135" cy="686" r="2.75"/><circle cx="1138.8" cy="686" r="2.75"/></g>
<g fill="#000"><circle cx="1143" cy="686" r="2.75"/><circle cx="1145" cy="686" r="2.75"/><circle cx="1147.5" cy="686" r="2.75"/></g>
<g fill="#fff"><circle cx="1156.2" cy="686" r="2.75"/><circle cx="1158" cy="686" r="2.75"/></g>
<g fill="#000"><circle cx="1168" cy="686" r="2.75"/><circle cx="1171.5" cy="686" r="2.75"/><circle cx="1173" cy="686" r="2.75"/></g>
<g fill="#fff"><circle cx="1183" cy="686" r="2.75"/></g>
<g fill="#000"><circle cx="1186.2" cy="686" r="2.75"/><circle cx="1187.8" cy="686" r="2.75"/></g>
<g fill="#fff"><circle cx="1194.4" cy="686" r="2.75"/><circle cx="1195.8" cy="686" r="2.75"/></g>
<g fill="#000"><circle cx="1198.8" cy="686" r="2.75"/></g>
<g fill="#fff"><circle cx="1203" cy="686" r="2.75"/></g>
<g fill="#000"><circle cx="1205.6" cy="686" r="2.75"/></g>
</g>
<text class="xl" text-anchor="middle" transform="translate(143.8,714.4) rotate(-90)">G150</text>
<text class="xl" text-anchor="middle" transform="translate(152.5,657.75) rotate(-90)">G135</text>
<text class="xl" text-anchor="middle" transform="translate(160,714.4) rotate(-90)">G180</text>
<text class="xl" text-anchor="middle" transform="translate(171.2,657.75) rotate(-90)">H2O2</text>
<text class="xl" text-anchor="middle" transform="translate(178.8,714.4) rotate(-90)">Paraq</text>
<text class="xl" text-anchor="middle" transform="translate(187.5,657.75) rotate(-90)">Oxctl</text>
<text class="xl" text-anchor="middle" transform="translate(197.5,714.4) rotate(-90)">LBGexp</text>
<text class="xl" text-anchor="middle" transform="translate(211.2,657.75) rotate(-90)">dia15</text>
<text class="xl" text-anchor="middle" transform="translate(227.5,714.4) rotate(-90)">Diami</text>
<text class="xl" text-anchor="middle" transform="translate(236.2,657.75) rotate(-90)">dia5</text>
<text class="xl" text-anchor="middle" transform="translate(255,714.4) rotate(-90)">C90</text>
<text class="xl" text-anchor="middle" transform="translate(267.5,657.75) rotate(-90)">C30</text>
<text class="xl" text-anchor="middle" transform="translate(282.5,714.4) rotate(-90)">Cold</text>
<text class="xl" text-anchor="middle" transform="translate(296.2,657.75) rotate(-90)">LPh</text>
<text class="xl" text-anchor="middle" transform="translate(305,714.4) rotate(-90)">HPh</text>
<text class="xl" text-anchor="middle" transform="translate(313.8,657.75) rotate(-90)">aero</text>
<text class="xl" text-anchor="middle" transform="translate(332.5,714.4) rotate(-90)">nit</text>
<text class="xl" text-anchor="middle" transform="translate(343.8,657.75) rotate(-90)">ferm</text>
<text class="xl" text-anchor="middle" transform="translate(360,714.4) rotate(-90)">GM+150</text>
<text class="xl" text-anchor="middle" transform="translate(366.2,657.75) rotate(-90)">M9−tran</text>
<text class="xl" text-anchor="middle" transform="translate(375,714.4) rotate(-90)">MG+150</text>
<text class="xl" text-anchor="middle" transform="translate(382,657.75) rotate(-90)">MG+120</text>
<text class="xl" text-anchor="middle" transform="translate(388.8,714.4) rotate(-90)">MG+90</text>
<text class="xl" text-anchor="middle" transform="translate(394.1,714.4) rotate(-90)">MG+45</text>
<text class="xl" text-anchor="middle" transform="translate(398,657.75) rotate(-90)">MG+25</text>
<text class="xl" text-anchor="middle" transform="translate(399.4,714.4) rotate(-90)">MG+90</text>
<text class="xl" text-anchor="middle" transform="translate(400.8,657.75) rotate(-90)">MG+60</text>
<text class="xl" text-anchor="middle" transform="translate(403,714.4) rotate(-90)">MG+45</text>
<text class="xl" text-anchor="middle" transform="translate(405.5,657.75) rotate(-90)">MG+25</text>
<text class="xl" text-anchor="middle" transform="translate(410.2,714.4) rotate(-90)">MG+15</text>
<text class="xl" text-anchor="middle" transform="translate(413.4,657.75) rotate(-90)">MG+10</text>
<text class="xl" text-anchor="middle" transform="translate(415.3,714.4) rotate(-90)">MG+15</text>
<text class="xl" text-anchor="middle" transform="translate(417.7,657.75) rotate(-90)">MG+10</text>
<text class="xl" text-anchor="middle" transform="translate(419.5,714.4) rotate(-90)">MG+5</text>
<text class="xl" text-anchor="middle" transform="translate(422,657.75) rotate(-90)">MG+t5</text>
<text class="xl" text-anchor="middle" transform="translate(424.3,714.4) rotate(-90)">MG+5</text>
<text class="xl" text-anchor="middle" transform="translate(426.5,657.75) rotate(-90)">MG+t5</text>
<text class="xl" text-anchor="middle" transform="translate(430,714.4) rotate(-90)">MG+15</text>
<text class="xl" text-anchor="middle" transform="translate(432,657.75) rotate(-90)">MG+10</text>
<text class="xl" text-anchor="middle" transform="translate(433.5,714.4) rotate(-90)">MG+5</text>
<text class="xl" text-anchor="middle" transform="translate(436,657.75) rotate(-90)">MG−0.2</text>
<text class="xl" text-anchor="middle" transform="translate(438,714.4) rotate(-90)">MG−0.1</text>
<text class="xl" text-anchor="middle" transform="translate(439.3,657.75) rotate(-90)">MG−0.2</text>
<text class="xl" text-anchor="middle" transform="translate(441,714.4) rotate(-90)">MG−0.1</text>
<text class="xl" text-anchor="middle" transform="translate(446,657.75) rotate(-90)">MG−0.2</text>
<text class="xl" text-anchor="middle" transform="translate(448,714.4) rotate(-90)">UNK1</text>
<text class="xl" text-anchor="middle" transform="translate(453,657.75) rotate(-90)">Fru</text>
<text class="xl" text-anchor="middle" transform="translate(460,714.4) rotate(-90)">Glucon</text>
<text class="xl" text-anchor="middle" transform="translate(466.8,657.75) rotate(-90)">GM−0.2</text>
<text class="xl" text-anchor="middle" transform="translate(473.5,657.75) rotate(-90)">GM−0.2</text>
<text class="xl" text-anchor="middle" transform="translate(477,714.4) rotate(-90)">GM−0.1</text>
<text class="xl" text-anchor="middle" transform="translate(479.5,657.75) rotate(-90)">GM+5</text>
<text class="xl" text-anchor="middle" transform="translate(481.5,714.4) rotate(-90)">GM+10</text>
<text class="xl" text-anchor="middle" transform="translate(484.5,657.75) rotate(-90)">GM+15</text>
<text class="xl" text-anchor="middle" transform="translate(486.5,714.4) rotate(-90)">GM+5</text>
<text class="xl" text-anchor="middle" transform="translate(488,657.75) rotate(-90)">GM+25</text>
<text class="xl" text-anchor="middle" transform="translate(492,714.4) rotate(-90)">GM+10</text>
<text class="xl" text-anchor="middle" transform="translate(494,657.75) rotate(-90)">GM+15</text>
<text class="xl" text-anchor="middle" transform="translate(495,714.4) rotate(-90)">GM+120</text>
<text class="xl" text-anchor="middle" transform="translate(497,657.75) rotate(-90)">GM+25</text>
<text class="xl" text-anchor="middle" transform="translate(501,714.4) rotate(-90)">GM+120</text>
<text class="xl" text-anchor="middle" transform="translate(503,657.75) rotate(-90)">GM+90</text>
<text class="xl" text-anchor="middle" transform="translate(508.5,714.4) rotate(-90)">GM+90</text>
<text class="xl" text-anchor="middle" transform="translate(512.8,657.75) rotate(-90)">GM+150</text>
<text class="xl" text-anchor="middle" transform="translate(517.5,714.4) rotate(-90)">GM+45</text>
<text class="xl" text-anchor="middle" transform="translate(519.5,657.75) rotate(-90)">GM+60</text>
<text class="xl" text-anchor="middle" transform="translate(522.8,714.4) rotate(-90)">GM+90</text>
<text class="xl" text-anchor="middle" transform="translate(524,657.75) rotate(-90)">GM+60</text>
<text class="xl" text-anchor="middle" transform="translate(527.8,714.4) rotate(-90)">GM+45</text>
<text class="xl" text-anchor="middle" transform="translate(529,657.75) rotate(-90)">GM+60</text>
<text class="xl" text-anchor="middle" transform="translate(531.8,714.4) rotate(-90)">GM+5</text>
<text class="xl" text-anchor="middle" transform="translate(539,657.75) rotate(-90)">M9−exp</text>
<text class="xl" text-anchor="middle" transform="translate(549,714.4) rotate(-90)">M/G</text>
<text class="xl" text-anchor="middle" transform="translate(561,657.75) rotate(-90)">Mal</text>
<text class="xl" text-anchor="middle" transform="translate(575,714.4) rotate(-90)">Fru</text>
<text class="xl" text-anchor="middle" transform="translate(581,657.75) rotate(-90)">Glu</text>
<text class="xl" text-anchor="middle" transform="translate(590,714.4) rotate(-90)">SMM</text>
<text class="xl" text-anchor="middle" transform="translate(598.7,657.75) rotate(-90)">BMM</text>
<text class="xl" text-anchor="middle" transform="translate(610,714.4) rotate(-90)">Heat</text>
<text class="xl" text-anchor="middle" transform="translate(625,657.75) rotate(-90)">Etha</text>
<text class="xl" text-anchor="middle" transform="translate(640,714.4) rotate(-90)">Salt</text>
<text class="xl" text-anchor="middle" transform="translate(653,657.75) rotate(-90)">Gly</text>
<text class="xl" text-anchor="middle" transform="translate(668,714.4) rotate(-90)">HiTm</text>
<text class="xl" text-anchor="middle" transform="translate(687,657.75) rotate(-90)">HiOs</text>
<text class="xl" text-anchor="middle" transform="translate(700,714.4) rotate(-90)">S1</text>
<text class="xl" text-anchor="middle" transform="translate(713,657.75) rotate(-90)">S2</text>
<text class="xl" text-anchor="middle" transform="translate(730,714.4) rotate(-90)">S3</text>
<text class="xl" text-anchor="middle" transform="translate(741,657.75) rotate(-90)">S4</text>
<text class="xl" text-anchor="middle" transform="translate(752.5,714.4) rotate(-90)">S3</text>
<text class="xl" text-anchor="middle" transform="translate(760.5,657.75) rotate(-90)">S5</text>
<text class="xl" text-anchor="middle" transform="translate(771,714.4) rotate(-90)">S6</text>
<text class="xl" text-anchor="middle" transform="translate(789,657.75) rotate(-90)">S7</text>
<text class="xl" text-anchor="middle" transform="translate(797,714.4) rotate(-90)">S8</text>
<text class="xl" text-anchor="middle" transform="translate(817,657.75) rotate(-90)">S6</text>
<text class="xl" text-anchor="middle" transform="translate(837,714.4) rotate(-90)">BT</text>
<text class="xl" text-anchor="middle" transform="translate(849,657.75) rotate(-90)">B36</text>
<text class="xl" text-anchor="middle" transform="translate(858,714.4) rotate(-90)">B60</text>
<text class="xl" text-anchor="middle" transform="translate(875,657.75) rotate(-90)">LoTm</text>
<text class="xl" text-anchor="middle" transform="translate(888.5,714.4) rotate(-90)">Pyr</text>
<text class="xl" text-anchor="middle" transform="translate(901,657.75) rotate(-90)">G/S</text>
<text class="xl" text-anchor="middle" transform="translate(913,714.4) rotate(-90)">Glucon</text>
<text class="xl" text-anchor="middle" transform="translate(922.8,657.75) rotate(-90)">SMMPr</text>
<text class="xl" text-anchor="middle" transform="translate(929.9,714.4) rotate(-90)">T−5.40H</text>
<text class="xl" text-anchor="middle" transform="translate(932.7,657.75) rotate(-90)">T−4.40H</text>
<text class="xl" text-anchor="middle" transform="translate(934.5,714.4) rotate(-90)">T−3.40H</text>
<text class="xl" text-anchor="middle" transform="translate(936,657.75) rotate(-90)">T−2.40H</text>
<text class="xl" text-anchor="middle" transform="translate(938.3,714.4) rotate(-90)">T−1.40H</text>
<text class="xl" text-anchor="middle" transform="translate(940,657.75) rotate(-90)">T−1.10H</text>
<text class="xl" text-anchor="middle" transform="translate(942.8,714.4) rotate(-90)">T−0.40H</text>
<text class="xl" text-anchor="middle" transform="translate(944.5,657.75) rotate(-90)">T0.0H</text>
<text class="xl" text-anchor="middle" transform="translate(955.2,714.4) rotate(-90)">T0.30H</text>
<text class="xl" text-anchor="middle" transform="translate(960.2,657.75) rotate(-90)">T1.0H</text>
<text class="xl" text-anchor="middle" transform="translate(963,714.4) rotate(-90)">T1.30H</text>
<text class="xl" text-anchor="middle" transform="translate(966.4,657.75) rotate(-90)">T2.0H</text>
<text class="xl" text-anchor="middle" transform="translate(968,714.4) rotate(-90)">T2.30H</text>
<text class="xl" text-anchor="middle" transform="translate(971.5,657.75) rotate(-90)">T3.0H</text>
<text class="xl" text-anchor="middle" transform="translate(973.5,714.4) rotate(-90)">T3.30H</text>
<text class="xl" text-anchor="middle" transform="translate(976,657.75) rotate(-90)">T4.0H</text>
<text class="xl" text-anchor="middle" transform="translate(980.5,714.4) rotate(-90)">T5.0H</text>
<text class="xl" text-anchor="middle" transform="translate(990,657.75) rotate(-90)">M9−stat</text>
<text class="xl" text-anchor="middle" transform="translate(1010,714.4) rotate(-90)">BC</text>
<text class="xl" text-anchor="middle" transform="translate(1028,657.75) rotate(-90)">Sw</text>
<text class="xl" text-anchor="middle" transform="translate(1044.6,714.4) rotate(-90)">LPhT</text>
<text class="xl" text-anchor="middle" transform="translate(1061.5,657.75) rotate(-90)">LBGstat</text>
<text class="xl" text-anchor="middle" transform="translate(1077,714.4) rotate(-90)">LBGtran</text>
<text class="xl" text-anchor="middle" transform="translate(1086,657.75) rotate(-90)">M0t45</text>
<text class="xl" text-anchor="middle" transform="translate(1092,714.4) rotate(-90)">M40t45</text>
<text class="xl" text-anchor="middle" transform="translate(1102,657.75) rotate(-90)">Lbtran</text>
<text class="xl" text-anchor="middle" transform="translate(1111,714.4) rotate(-90)">Mt0</text>
<text class="xl" text-anchor="middle" transform="translate(1115.6,657.75) rotate(-90)">M40t45</text>
<text class="xl" text-anchor="middle" transform="translate(1123.5,714.4) rotate(-90)">M40t90</text>
<text class="xl" text-anchor="middle" transform="translate(1138,657.75) rotate(-90)">M0t90</text>
<text class="xl" text-anchor="middle" transform="translate(1148,714.4) rotate(-90)">Lbstat</text>
<text class="xl" text-anchor="middle" transform="translate(1161.7,657.75) rotate(-90)">BI</text>
<text class="xl" text-anchor="middle" transform="translate(1173,714.4) rotate(-90)">S0</text>
<text class="xl" text-anchor="middle" transform="translate(1188.8,657.75) rotate(-90)">M0t45</text>
<text class="xl" text-anchor="middle" transform="translate(1191,714.4) rotate(-90)">dia0</text>
<text class="xl" text-anchor="middle" transform="translate(1197.8,657.75) rotate(-90)">Lbexp</text>
<text class="xl" text-anchor="middle" transform="translate(1204.5,714.4) rotate(-90)">Mt0</text>
<text class="xl" text-anchor="middle" transform="translate(1204.5,657.75) rotate(-90)">Lbexp</text>
<text class="xl" text-anchor="middle" transform="translate(1210,714.4) rotate(-90)">Mt0</text>
</svg></body></html>
